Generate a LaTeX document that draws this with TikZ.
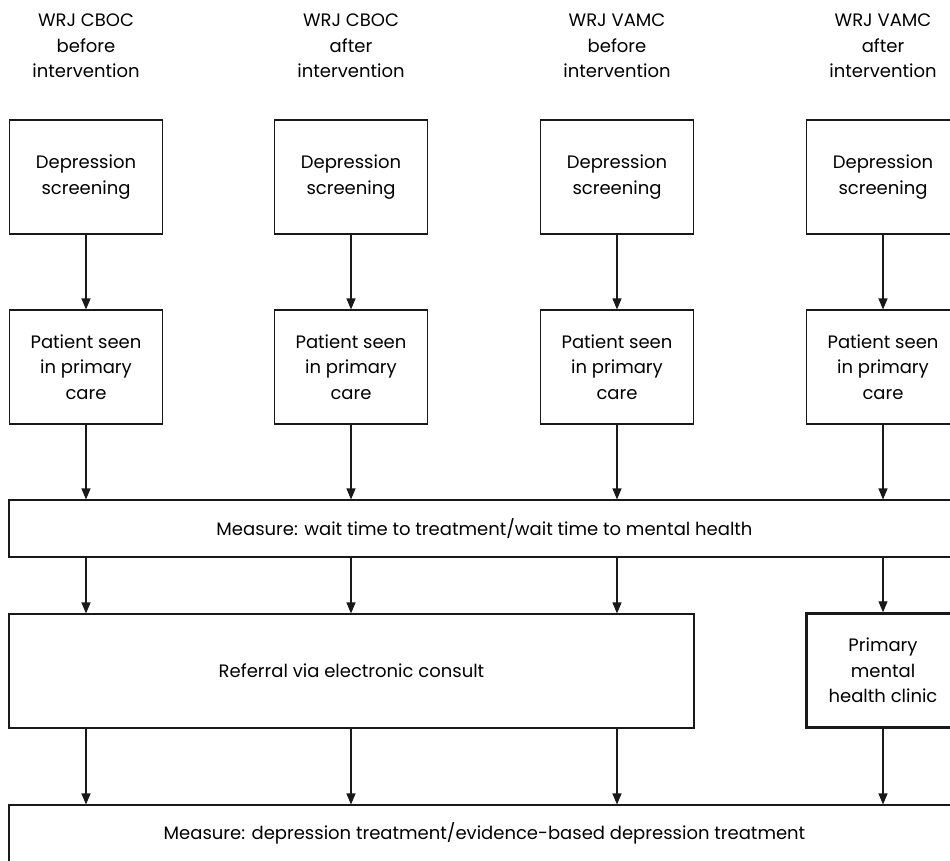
\documentclass[tikz,border=0pt]{standalone}
\usepackage{fontspec}
\setmainfont{Poppins}
\usetikzlibrary{arrows.meta}

\begin{document}
\begin{tikzpicture}[x=1pt,y=-1pt,
    box/.style={draw=black!90,line width=1.1pt,align=center,inner sep=0pt,
      minimum width=153pt,minimum height=114pt,
      font=\fontsize{18}{25.5}\selectfont},
    widebox/.style={box,minimum width=951pt,minimum height=57pt},
    heavybox/.style={box,line width=2.4pt},
    head/.style={align=center,font=\fontsize{18}{25.5}\selectfont},
    arr/.style={-{Triangle[length=11pt,width=9pt]},line width=1.1pt,black!90}]
  \clip (0,0) rectangle (950,860);

  % column headings
  \node[head] (h1) at (86,46) {WRJ CBOC\\before\\intervention};
  \node[head] (h2) at (351,46) {WRJ CBOC\\after\\intervention};
  \node[head] (h3) at (617,46) {WRJ VAMC\\before\\intervention};
  \node[head] (h4) at (883,46) {WRJ VAMC\\after\\intervention};

  % screening
  \node[box] (dep1) at (86,177) {Depression\\screening};
  \node[box] (dep2) at (351,177) {Depression\\screening};
  \node[box] (dep3) at (617,177) {Depression\\screening};
  \node[box] (dep4) at (883,177) {Depression\\screening};

  % primary care
  \node[box] (pat1) at (86,367) {Patient seen\\in primary\\care};
  \node[box] (pat2) at (351,367) {Patient seen\\in primary\\care};
  \node[box] (pat3) at (617,367) {Patient seen\\in primary\\care};
  \node[box] (pat4) at (883,367) {Patient seen\\in primary\\care};

  \node[widebox] (meas1) at (484.5,528.5) {Measure: wait time to treatment/wait time to mental health};

  \node[box,minimum width=685pt] (ref) at (351.5,671) {Referral via electronic consult};
  \node[heavybox] (clin) at (883,670.5) {Primary\\mental\\health clinic};

  \node[widebox] (meas2) at (484.5,833.5) {Measure: depression treatment/evidence-based depression treatment};

  \draw[arr] (dep1) -- (pat1);
  \draw[arr] (dep2) -- (pat2);
  \draw[arr] (dep3) -- (pat3);
  \draw[arr] (dep4) -- (pat4);

  \draw[arr] (pat1) -- (meas1.north -| pat1);
  \draw[arr] (pat2) -- (meas1.north -| pat2);
  \draw[arr] (pat3) -- (meas1.north -| pat3);
  \draw[arr] (pat4) -- (meas1.north -| pat4);

  \draw[arr] (meas1.south -| pat1) -- (ref.north -| pat1);
  \draw[arr] (meas1.south -| pat2) -- (ref.north -| pat2);
  \draw[arr] (meas1.south -| pat3) -- (ref.north -| pat3);
  \draw[arr] (meas1.south -| pat4) -- (clin);

  \draw[arr] (ref.south -| pat1) -- (meas2.north -| pat1);
  \draw[arr] (ref.south -| pat2) -- (meas2.north -| pat2);
  \draw[arr] (ref.south -| pat3) -- (meas2.north -| pat3);
  \draw[arr] (clin) -- (meas2.north -| clin);
\end{tikzpicture}
\end{document}
